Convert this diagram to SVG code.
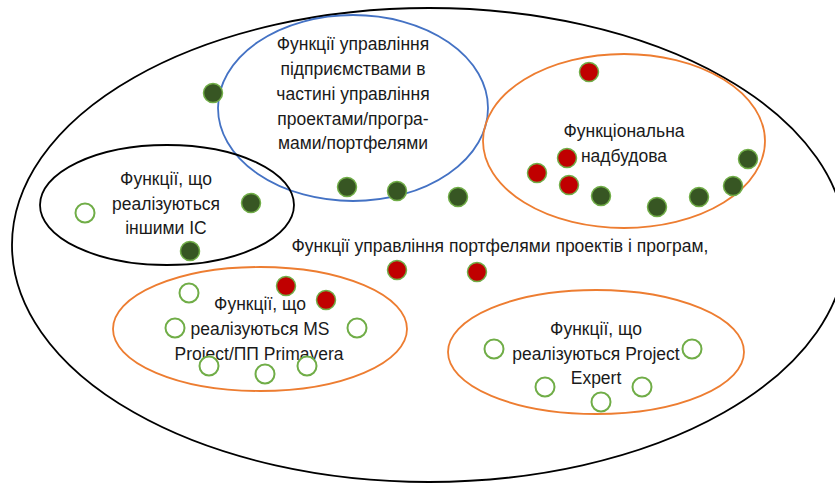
<svg xmlns="http://www.w3.org/2000/svg" width="835" height="483" viewBox="0 0 835 483">
<style>
.bg{fill:#ffffff}
.shape{fill:none;stroke-width:1.8}
.blk{stroke:#000000}
.blue{stroke:#4472c4}
.orange{stroke:#ed7d31}
.t{font-family:"Liberation Sans",Arial,sans-serif;font-size:17.5px;fill:#1a1a1a;text-anchor:middle}
.dg{fill:#375623;stroke:#70ad47;stroke-width:1.5}
.rd{fill:#c00000;stroke:#70ad47;stroke-width:1.5}
.op{fill:#ffffff;stroke:#70ad47;stroke-width:2}
</style>
<defs>
<circle id="dot" r="9.5"/>
</defs>
<rect class="bg" x="0" y="0" width="835" height="483"/>
<g id="outer"><ellipse class="shape blk" cx="429" cy="245" rx="417" ry="237"/></g>
<g id="pm-functions">
<ellipse class="shape blue" cx="353" cy="108" rx="135" ry="93"/>
<text class="t" x="353" y="50">Функції управління</text>
<text class="t" x="353" y="75">підприємствами в</text>
<text class="t" x="353" y="100">частині управління</text>
<text class="t" x="353" y="125">проектами/програ-</text>
<text class="t" x="353" y="149">мами/портфелями</text>
</g>
<g id="superstructure">
<ellipse class="shape orange" cx="624" cy="141" rx="141" ry="87"/>
<text class="t" x="624" y="137">Функціональна</text>
<text class="t" x="624" y="162">надбудова</text>
</g>
<g id="other-is">
<ellipse class="shape blk" cx="167" cy="205" rx="127" ry="60"/>
<text class="t" x="166" y="185">Функції, що</text>
<text class="t" x="166" y="210">реалізуються</text>
<text class="t" x="166" y="234">іншими ІС</text>
</g>
<g id="portfolio-label">
<text class="t" x="500" y="252">Функції управління портфелями проектів і програм,</text>
</g>
<g id="ms-project">
<ellipse class="shape orange" cx="260" cy="329" rx="147" ry="62"/>
<text class="t" x="260" y="310">Функції, що</text>
<text class="t" x="260" y="335">реалізуються MS</text>
<text class="t" x="259" y="360">Project/ПП Primavera</text>
</g>
<g id="project-expert">
<ellipse class="shape orange" cx="596" cy="352" rx="148" ry="62"/>
<text class="t" x="596" y="335">Функції, що</text>
<text class="t" x="596" y="360">реалізуються Project</text>
<text class="t" x="596" y="384">Expert</text>
</g>
<g id="markers">
<use href="#dot" class="dg" x="213" y="93"/>
<use href="#dot" class="dg" x="251" y="203"/>
<use href="#dot" class="dg" x="190" y="251"/>
<use href="#dot" class="dg" x="347" y="187"/>
<use href="#dot" class="dg" x="397" y="191"/>
<use href="#dot" class="dg" x="458" y="197"/>
<use href="#dot" class="dg" x="601" y="196"/>
<use href="#dot" class="dg" x="657" y="207"/>
<use href="#dot" class="dg" x="699" y="197"/>
<use href="#dot" class="dg" x="733" y="186"/>
<use href="#dot" class="dg" x="748" y="159"/>
<use href="#dot" class="rd" x="589" y="72"/>
<use href="#dot" class="rd" x="567" y="158"/>
<use href="#dot" class="rd" x="537" y="173"/>
<use href="#dot" class="rd" x="569" y="185"/>
<use href="#dot" class="rd" x="397" y="270"/>
<use href="#dot" class="rd" x="477" y="272"/>
<use href="#dot" class="rd" x="286" y="286"/>
<use href="#dot" class="rd" x="326" y="300"/>
<use href="#dot" class="op" x="85" y="213"/>
<use href="#dot" class="op" x="189" y="293"/>
<use href="#dot" class="op" x="175" y="328"/>
<use href="#dot" class="op" x="357" y="328"/>
<use href="#dot" class="op" x="209" y="366"/>
<use href="#dot" class="op" x="265" y="374"/>
<use href="#dot" class="op" x="307" y="366"/>
<use href="#dot" class="op" x="494" y="349"/>
<use href="#dot" class="op" x="692" y="349"/>
<use href="#dot" class="op" x="545" y="387"/>
<use href="#dot" class="op" x="642" y="387"/>
<use href="#dot" class="op" x="601" y="402"/>
</g>
</svg>
